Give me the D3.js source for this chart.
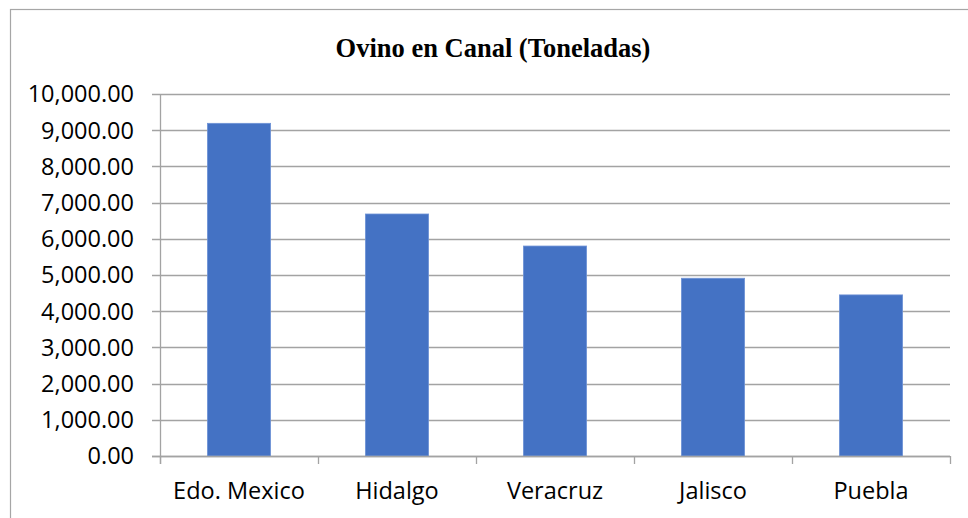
<!DOCTYPE html>
<html>
<head>
<meta charset="utf-8">
<script src="https://cdn.jsdelivr.net/npm/d3@7"></script>
<style>
  html, body { margin: 0; padding: 0; background: #fff; }
  svg { display: block; }
</style>
</head>
<body>
<svg id="chart" width="968" height="518"></svg>
<script>
// Carcass sheep meat production by state (tonnes)
const title = "Ovino en Canal (Toneladas)";
const states = ["Edo. Mexico", "Hidalgo", "Veracruz", "Jalisco", "Puebla"];
const tonnes = [9190, 6685, 5800, 4910, 4450];
const yTicks = [0, 1000, 2000, 3000, 4000, 5000, 6000, 7000, 8000, 9000, 10000];

const svg = d3.select("#chart");
const W = 968, H = 518;
const plot = { left: 160, right: 950, top: 94, bottom: 456 };
const gridColor = "#a3a3a3";
const labelFont = "'Open Sans', 'Noto Sans', sans-serif";
const labelSize = 23.5;

// Chart frame
svg.append("rect")
  .attr("x", 10.5).attr("y", 9.5)
  .attr("width", W + 20).attr("height", H + 20)
  .attr("fill", "#fff")
  .attr("stroke", "#a6a6a6").attr("stroke-width", 1.2);

const x = d3.scaleBand()
  .domain(states)
  .range([plot.left, plot.right])
  .paddingInner(0.6)
  .paddingOuter(0.3);

const y = d3.scaleLinear()
  .domain([0, 10000])
  .range([plot.bottom, plot.top]);

const fmt = d3.format(",.2f");

// Horizontal gridlines with small left ticks
svg.append("g")
  .selectAll("line")
  .data(yTicks)
  .join("line")
  .attr("x1", plot.left - 8)
  .attr("x2", plot.right)
  .attr("y1", d => Math.round(y(d)) + 0.5)
  .attr("y2", d => Math.round(y(d)) + 0.5)
  .attr("stroke", gridColor)
  .attr("stroke-width", 1.3);

// Y tick labels
svg.append("g")
  .selectAll("text")
  .data(yTicks)
  .join("text")
  .attr("x", 134)
  .attr("y", d => y(d))
  .attr("dy", "0.36em")
  .attr("text-anchor", "end")
  .attr("font-family", labelFont)
  .attr("font-size", labelSize)
  .attr("fill", "#000")
  .text(d => fmt(d));

// Bars
svg.append("g")
  .selectAll("rect")
  .data(states.map((s, i) => ({ s, v: tonnes[i] })))
  .join("rect")
  .attr("x", d => x(d.s))
  .attr("y", d => y(d.v))
  .attr("width", x.bandwidth())
  .attr("height", d => y(0) - y(d.v))
  .attr("fill", "#4472c4")
  .attr("stroke", "#6f93d6")
  .attr("stroke-width", 0.8);

// Axis lines
svg.append("line")
  .attr("x1", plot.left + 0.5).attr("x2", plot.left + 0.5)
  .attr("y1", plot.top).attr("y2", plot.bottom + 8)
  .attr("stroke", gridColor).attr("stroke-width", 1.3);

svg.append("line")
  .attr("x1", plot.left - 8).attr("x2", plot.right)
  .attr("y1", plot.bottom + 0.5).attr("y2", plot.bottom + 0.5)
  .attr("stroke", gridColor).attr("stroke-width", 1.3);

// Category boundary ticks below the axis
const step = x.step();
const boundaries = d3.range(states.length + 1).map(i => plot.left + i * step);
svg.append("g")
  .selectAll("line")
  .data(boundaries)
  .join("line")
  .attr("x1", d => Math.round(d) + 0.5)
  .attr("x2", d => Math.round(d) + 0.5)
  .attr("y1", plot.bottom)
  .attr("y2", plot.bottom + 8)
  .attr("stroke", gridColor)
  .attr("stroke-width", 1.3);

// Category labels
svg.append("g")
  .selectAll("text")
  .data(states)
  .join("text")
  .attr("x", d => x(d) + x.bandwidth() / 2)
  .attr("y", 499)
  .attr("text-anchor", "middle")
  .attr("font-family", labelFont)
  .attr("font-size", labelSize)
  .attr("fill", "#000")
  .text(d => d);

// Title
svg.append("text")
  .attr("x", 493)
  .attr("y", 57)
  .attr("text-anchor", "middle")
  .attr("font-family", "'Liberation Serif', 'Times New Roman', serif")
  .attr("font-weight", "bold")
  .attr("font-size", 26.5)
  .attr("fill", "#000")
  .text(title);
</script>
</body>
</html>
